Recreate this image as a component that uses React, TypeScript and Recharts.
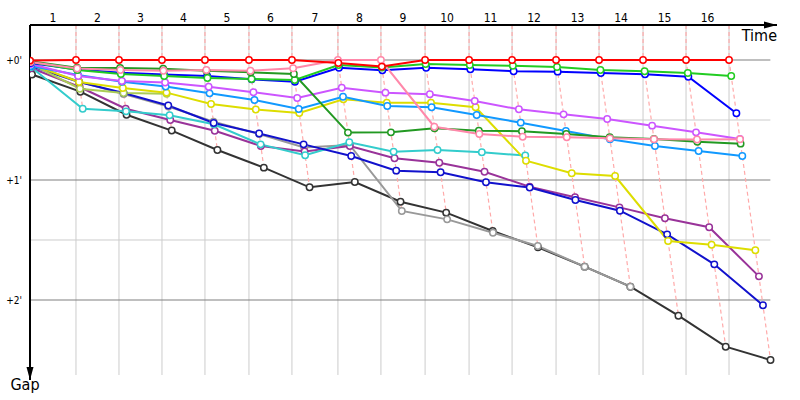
import { LineChart, Line, XAxis, YAxis, ReferenceLine, ReferenceDot } from 'recharts';

// time (minutes) at which the lap leader completed each lap, lap 0 = start
const lapTimes = [0, 2.77, 5.36, 7.95, 10.54, 13.19, 15.78, 18.55, 21.14, 23.8, 26.45, 29.04, 31.69, 34.28, 36.93, 39.52, 42.11];
const lapLabels = ['1', '2', '3', '4', '5', '6', '7', '8', '9', '10', '11', '12', '13', '14', '15', '16'];
const gapTicks = [0, 1, 2];
const gapLabels = ["+0'", "+1'", "+2'"];
const halfTicks = [0.5, 1.5];

// gap to the leader (minutes) at the end of each lap, lap 0 first
const red = [0.005, 0, 0, 0, 0, 0, 0, 0.025, 0.055, 0, 0, 0, 0, 0, 0, 0, 0];
const pink = [0.017, 0.071, 0.083, 0.089, 0.083, 0.089, 0.069, 0, 0, 0.556, 0.617, 0.639, 0.644, 0.653, 0.66, 0.662, 0.661];
const darkGreen = [0.01, 0.064, 0.067, 0.072, 0.089, 0.103, 0.117, 0.605, 0.603, 0.569, 0.589, 0.594, 0.617, 0.644, 0.658, 0.681, 0.697];
const green = [0.017, 0.083, 0.117, 0.133, 0.15, 0.158, 0.167, 0.042, 0.063, 0.033, 0.042, 0.048, 0.058, 0.083, 0.094, 0.108, 0.133];
const blue = [0.025, 0.079, 0.106, 0.121, 0.133, 0.161, 0.181, 0.064, 0.086, 0.064, 0.078, 0.094, 0.097, 0.108, 0.119, 0.139, 0.444];
const violet = [0.033, 0.133, 0.175, 0.188, 0.223, 0.269, 0.317, 0.231, 0.272, 0.286, 0.342, 0.411, 0.453, 0.492, 0.547, 0.603, 0.658];
const skyBlue = [0.05, 0.125, 0.181, 0.221, 0.278, 0.333, 0.408, 0.306, 0.383, 0.394, 0.458, 0.522, 0.592, 0.661, 0.717, 0.758, 0.8];
const yellow = [0.033, 0.183, 0.233, 0.272, 0.367, 0.413, 0.442, 0.328, 0.356, 0.356, 0.394, 0.839, 0.944, 0.967, 1.508, 1.539, 1.586];
const olive = [0.033, 0.239, 0.275, 0.281];
const navy = [0.05, 0.183, 0.275, 0.379, 0.525, 0.613, 0.703, 0.8, 0.922, 0.936, 1.019, 1.063, 1.167, 1.256, 1.453, 1.703, 2.044];
const cyan = [0.058, 0.406, 0.428, 0.46, 0.536, 0.703, 0.794, 0.686, 0.764, 0.75, 0.769, 0.796];
const purple = [0.067, 0.225, 0.406, 0.5, 0.589, 0.717, 0.763, 0.717, 0.819, 0.856, 0.931, 1.056, 1.144, 1.228, 1.319, 1.394, 1.803];
const gray = [0.042, 0.179, 0.283, 0.388, 0.514, 0.617, 0.729, 0.708, 1.258, 1.328, 1.439, 1.55, 1.722, 1.889];
const black = [0.121, 0.264, 0.456, 0.588, 0.75, 0.897, 1.061, 1.017, 1.181, 1.272, 1.425, 1.561, 1.722, 1.889, 2.131, 2.389, 2.5];

// bottom of the field drawn first so the front runners sit on top
const drivers = [
  { id: 'black', color: '#333333', gaps: black },
  { id: 'gray', color: '#999999', gaps: gray },
  { id: 'purple', color: '#993399', gaps: purple },
  { id: 'cyan', color: '#33cccc', gaps: cyan },
  { id: 'navy', color: '#1111cc', gaps: navy },
  { id: 'olive', color: '#aacc55', gaps: olive },
  { id: 'yellow', color: '#dddd00', gaps: yellow },
  { id: 'skyBlue', color: '#1199ff', gaps: skyBlue },
  { id: 'violet', color: '#cc55ff', gaps: violet },
  { id: 'blue', color: '#0000ff', gaps: blue },
  { id: 'green', color: '#22cc22', gaps: green },
  { id: 'darkGreen', color: '#229922', gaps: darkGreen },
  { id: 'pink', color: '#ff88aa', gaps: pink },
  { id: 'red', color: '#ff0000', gaps: red },
];

const X_MAX = 45;
const GAP_TOP = -0.2917;
const GAP_BOTTOM = 2.6667;
const FONT = '"DejaVu Sans Condensed", "Liberation Sans", Arial, sans-serif';

// a driver crosses the line at leader time + gap
const toPoints = (gaps: number[]) => gaps.map((g, i) => ({ x: lapTimes[i] + g, y: g }));

const lapMids = lapTimes.slice(1).map((t, i) => (lapTimes[i] + t) / 2);

// one dashed line per lap, through the leader and every car on that lap
const lapLines = lapTimes.slice(1).map((t, i) => {
  const lap = i + 1;
  const last = Math.max(...drivers.filter((d) => d.gaps.length > lap).map((d) => d.gaps[lap]));
  return [
    { x: t, y: GAP_TOP },
    { x: t, y: 0 },
    { x: t + last, y: last },
  ];
});

const TimeArrow = (props: any) => {
  const { cx, cy } = props;
  return (
    <g>
      <path d={`M${cx},${cy} L${cx - 13},${cy - 3.5} L${cx - 13},${cy + 3.5} Z`} fill="#000" />
      <text x={cx} y={cy + 16} textAnchor="end" fontSize={16} fontFamily={FONT} fill="#000">
        Time
      </text>
    </g>
  );
};

const GapArrow = (props: any) => {
  const { cx, cy } = props;
  return (
    <g>
      <path d={`M${cx},${cy} L${cx - 3.5},${cy - 13} L${cx + 3.5},${cy - 13} Z`} fill="#000" />
      <text x={cx - 5} y={cy + 10} textAnchor="middle" fontSize={16} fontFamily={FONT} fill="#000">
        Gap
      </text>
    </g>
  );
};

export default function App() {
  return (
    <div style={{ position: 'absolute', left: 0, top: 0, width: 800, height: 400, background: '#fff' }}>
      <LineChart width={800} height={400} margin={{ top: 0, right: 23, bottom: 20, left: 0 }}>
        <XAxis
          type="number"
          dataKey="x"
          orientation="top"
          height={25}
          domain={[0, X_MAX]}
          allowDataOverflow
          ticks={lapMids}
          interval={0}
          tickFormatter={(_v: number, i: number) => lapLabels[i]}
          tickLine={false}
          tickSize={3}
          tickMargin={0}
          axisLine={{ stroke: '#000', strokeWidth: 2 }}
          tick={{ fontSize: 12, fill: '#000', fontFamily: FONT }}
        />
        <YAxis
          type="number"
          dataKey="y"
          reversed
          width={30}
          domain={[GAP_TOP, GAP_BOTTOM]}
          allowDataOverflow
          ticks={gapTicks}
          interval={0}
          tickFormatter={(_v: number, i: number) => gapLabels[i]}
          tickLine={false}
          axisLine={{ stroke: '#000', strokeWidth: 2 }}
          tick={{ fontSize: 10, fill: '#000', fontFamily: FONT }}
        />

        {lapTimes.slice(1).map((t) => (
          <ReferenceLine
            key={`v${t}`}
            segment={[{ x: t, y: GAP_TOP }, { x: t, y: 2.625 }]}
            stroke="#cccccc"
            strokeWidth={1}
          />
        ))}
        {halfTicks.map((g) => (
          <ReferenceLine key={`h${g}`} segment={[{ x: 0, y: g }, { x: 44.6, y: g }]} stroke="#cccccc" strokeWidth={1} />
        ))}
        {gapTicks.map((g) => (
          <ReferenceLine key={`m${g}`} segment={[{ x: 0, y: g }, { x: 44.6, y: g }]} stroke="#808080" strokeWidth={1.2} />
        ))}

        {lapLines.map((pts, i) => (
          <Line
            key={`lap${i}`}
            data={pts}
            dataKey="y"
            stroke="#ffaaaa"
            strokeWidth={1.2}
            strokeDasharray="4 3"
            dot={false}
            activeDot={false}
            isAnimationActive={false}
          />
        ))}

        {drivers.map((d) => (
          <Line
            key={d.id}
            data={toPoints(d.gaps)}
            dataKey="y"
            stroke={d.color}
            strokeWidth={2}
            dot={{ r: 3.2, fill: '#fff', stroke: d.color, strokeWidth: 1.5 }}
            activeDot={false}
            isAnimationActive={false}
          />
        ))}

        <ReferenceDot x={X_MAX} y={GAP_TOP} r={0} shape={TimeArrow} />
        <ReferenceDot x={0} y={GAP_BOTTOM} r={0} shape={GapArrow} />
      </LineChart>
    </div>
  );
}
